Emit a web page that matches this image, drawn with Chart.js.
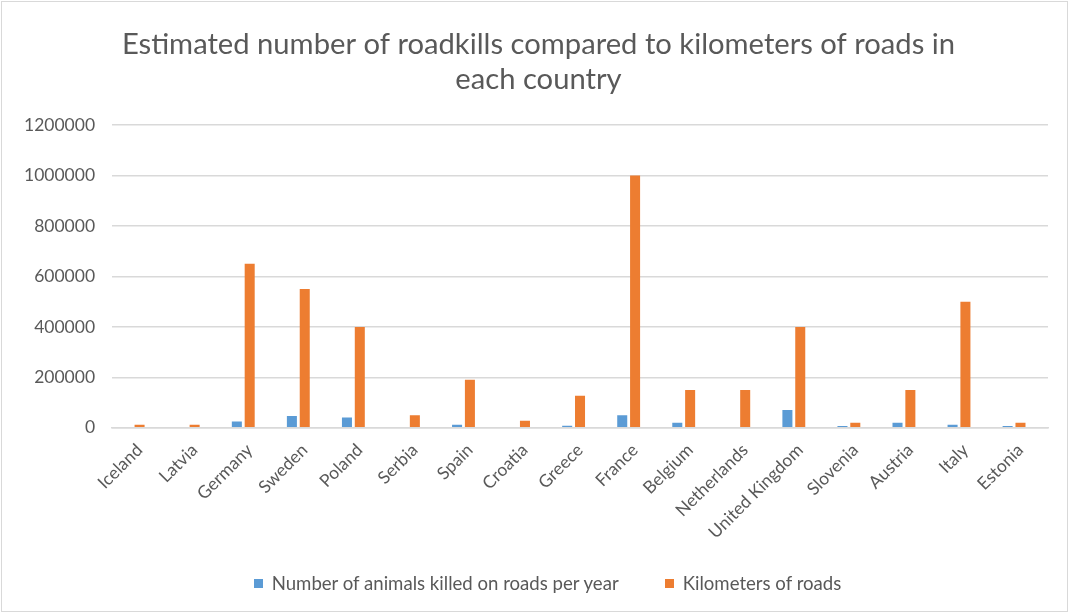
<!DOCTYPE html>
<html>
<head>
<meta charset="utf-8">
<script src="https://cdn.jsdelivr.net/npm/chart.js@4.4.1/dist/chart.umd.min.js"></script>
<style>
  html, body { margin: 0; padding: 0; background: #fff; }
  #wrap { position: relative; width: 1071px; height: 615px; overflow: hidden; }
  #frame { position: absolute; left: 1px; top: 1px; width: 1065px; height: 609px; border: 1px solid #d9d9d9; pointer-events: none; }
  canvas { position: absolute; left: 0; top: 0; }
  #legend { position: absolute; left: 24px; right: 0; top: 572px; height: 22px; display: flex; justify-content: center; gap: 46px;
            font-family: Lato, "Liberation Sans", sans-serif; font-size: 18.6px; color: #595959; line-height: 22px; }
  #legend span.item { display: flex; align-items: center; white-space: nowrap; }
  #legend i { display: inline-block; width: 9px; height: 9px; margin-right: 9px; }
</style>
</head>
<body>
<div id="wrap">
  <canvas id="c" width="1071" height="615"></canvas>
  <div id="legend"></div>
  <div id="frame"></div>
</div>
<script>
// Categories and series
const countries = ["Iceland", "Latvia", "Germany", "Sweden", "Poland", "Serbia", "Spain", "Croatia", "Greece",
                   "France", "Belgium", "Netherlands", "United Kingdom", "Slovenia", "Austria", "Italy", "Estonia"];
const animalsKilled = [0, 0, 25000, 47000, 41000, 0, 12000, 0, 8000,
                       50000, 20000, 0, 70000, 7000, 20000, 12000, 7000];
const roadKm = [12000, 12000, 650000, 550000, 400000, 50000, 190000, 28000, 127000,
                1000000, 150000, 150000, 400000, 20000, 150000, 500000, 20000];
// Third, empty column slot in each cluster
const spareSlot = countries.map(() => null);
const yTicks = [0, 200000, 400000, 600000, 800000, 1000000, 1200000];

const seriesNames = ["Number of animals killed on roads per year", "Kilometers of roads"];
const seriesColors = ["#5B9BD5", "#ED7D31"];

const font = "Lato, 'Liberation Sans', sans-serif";
const grey = "#595959";

// Nudge the title so it centres over the whole frame rather than the padded area
const titleShift = {
  id: "titleShift",
  afterLayout(chart) {
    const t = chart.titleBlock;
    if (t) { t.left += 11; t.right += 11; }
  }
};

const chart = new Chart(document.getElementById("c"), {
  type: "bar",
  data: {
    labels: countries,
    datasets: [
      { label: seriesNames[0], data: animalsKilled, backgroundColor: seriesColors[0] },
      { label: seriesNames[1], data: roadKm, backgroundColor: seriesColors[1] },
      { label: "", data: spareSlot, backgroundColor: "rgba(0,0,0,0)" }
    ]
  },
  plugins: [titleShift],
  options: {
    responsive: false,
    animation: false,
    events: [],
    datasets: { bar: { categoryPercentage: 0.70, barPercentage: 0.78 } },
    layout: { padding: { left: 7, right: 23, top: 0, bottom: 68 } },
    plugins: {
      legend: { display: false },
      tooltip: { enabled: false },
      title: {
        display: true,
        text: ["Estimated number of roadkills compared to kilometers of roads in", "each country"],
        color: grey,
        font: { family: font, size: 29.2, weight: "normal", lineHeight: 1.2 },
        padding: { top: 27, bottom: 28 }
      }
    },
    scales: {
      x: {
        grid: { display: false },
        border: { color: "#d9d9d9", width: 1.5 },
        ticks: { color: grey, font: { family: font, size: 17.5 }, minRotation: 45, maxRotation: 45, autoSkip: false, padding: 4 }
      },
      y: {
        min: 0, max: 1200000,
        afterBuildTicks: (axis) => { axis.ticks = yTicks.map(v => ({ value: v })); },
        grid: { color: "#d9d9d9", lineWidth: 1.5, drawTicks: false },
        border: { display: false },
        ticks: { color: grey, font: { family: font, size: 17.5 }, padding: 17, callback: (v) => String(v) }
      }
    }
  }
});

// Legend built from the two visible datasets
const legend = document.getElementById("legend");
chart.data.datasets.slice(0, 2).forEach((ds) => {
  const item = document.createElement("span");
  item.className = "item";
  const sw = document.createElement("i");
  sw.style.background = ds.backgroundColor;
  item.appendChild(sw);
  item.appendChild(document.createTextNode(ds.label));
  legend.appendChild(item);
});
</script>
</body>
</html>
